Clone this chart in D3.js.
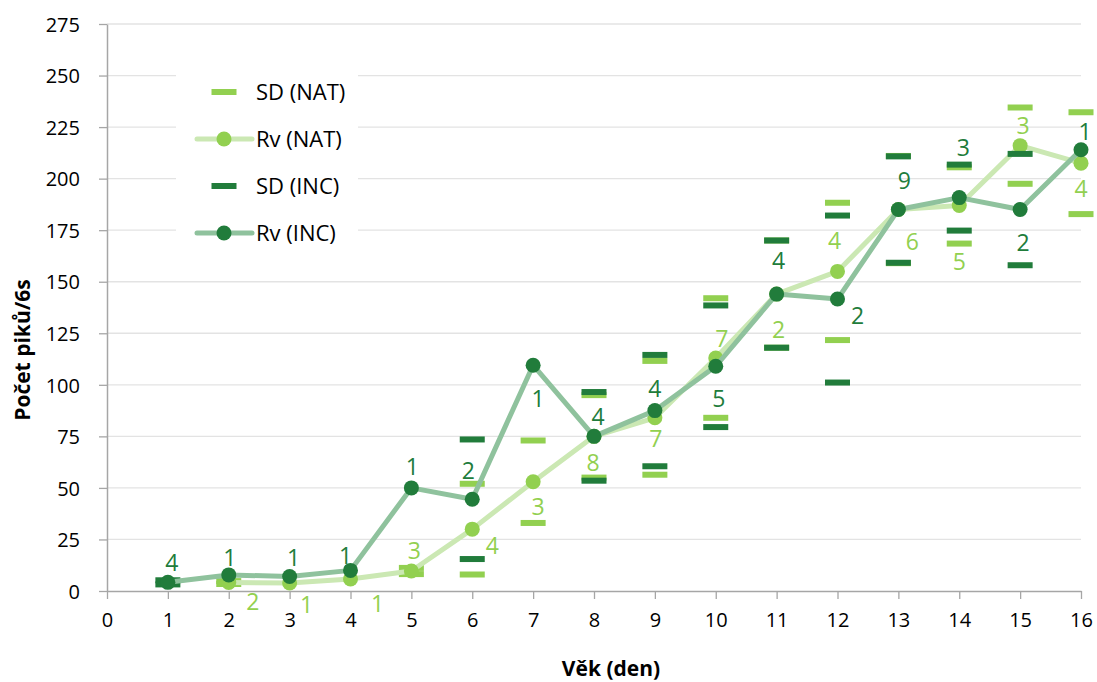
<!DOCTYPE html>
<html>
<head>
<meta charset="utf-8">
<script src="https://cdn.jsdelivr.net/npm/d3@7"></script>
<style>
  body { margin: 0; background: #fff; }
  svg { display: block; }
  text { font-family: "Open Sans", "Noto Sans", sans-serif; }
</style>
</head>
<body>
<svg id="chart" width="1097" height="682"></svg>
<script>
// Age in days
const days = [1, 2, 3, 4, 5, 6, 7, 8, 9, 10, 11, 12, 13, 14, 15, 16];

// NAT group: mean peak count, standard deviation, number of animals
const rvNat = [null, 4.1, 3.9, 5.8, 9.7, 30, 53, 75, 84, 113, 144, 155, 185, 187, 216, 207.5];
const sdNat = [null, 0.7, null, null, 1.5, 22, 20, 20, 27.6, 29, 26, 33.3, 26, 18.5, 18.5, 24.7];
const nNat  = [null, 2, 1, 1, 3, 4, 3, 8, 7, 7, 2, 4, 6, 5, 3, 4];

// INC group: mean peak count, standard deviation, number of animals
const rvInc = [4.2, 7.8, 7, 10, 50, 44.5, 109.5, 75, 87.5, 109, 144, 141.6, 185, 190.8, 185, 214];
const sdInc = [1, null, null, null, null, 29, null, 21.5, 27, 29.5, 26, 40.5, 25.8, 16, 27, null];
const nInc  = [4, 1, 1, 1, 1, 2, 1, 4, 4, 5, 4, 2, 9, 3, 2, 1];

// Axis ticks
const xTicks = d3.range(0, 17);
const yTicks = d3.range(0, 276, 25);

// Placement of the count labels relative to their point (px)
const labelShiftNat = [null, [24, 19], [17, 22], [27, 25], [3, -20], [20, 17], [5, 25], [-1, 26], [1, 21],
                       [6, -19], [2, 36], [-3, -31], [14, 32], [0, 56], [3, -20], [0, 26]];
const labelShiftInc = [[4, -20], [1, -17], [4, -19], [-5, -15], [1, -21], [-4, -29], [5, 33], [4, -20], [0, -22],
                       [3, 32], [2, -33], [20, 17], [6, -29], [4, -50], [3, 33], [4, -18]];

const C = {
  natMark: "#92d050", natLine: "#cbe8b3",
  incMark: "#217c3b", incLine: "#8fc29d",
  axis: "#a6a6a6", grid: "#e3e3e3", text: "#000"
};

const svg = d3.select("#chart");
const plot = { left: 107, right: 1081, top: 24, bottom: 591 };

const x = d3.scaleLinear().domain([0, 16]).range([plot.left, plot.right]);
const y = d3.scaleLinear().domain([0, 275]).range([plot.bottom, plot.top]);

// Horizontal gridlines
svg.append("g").selectAll("line").data(yTicks.filter(v => v > 0)).join("line")
  .attr("x1", plot.left).attr("x2", plot.right)
  .attr("y1", d => y(d)).attr("y2", d => y(d))
  .attr("stroke", C.grid).attr("stroke-width", 1.3);

// Y axis
const yAxis = svg.append("g").attr("transform", `translate(${plot.left},0)`)
  .call(d3.axisLeft(y).tickValues(yTicks).tickSize(8).tickPadding(19).tickSizeOuter(0));
yAxis.select(".domain").attr("stroke", C.axis).attr("stroke-width", 1.5);
yAxis.selectAll(".tick line").attr("stroke", C.axis).attr("stroke-width", 1.3);
yAxis.selectAll(".tick text").attr("font-size", 20).attr("fill", C.text)
  .attr("font-family", '"Open Sans", sans-serif').attr("dy", "0.36em");

// X axis
const xAxis = svg.append("g").attr("transform", `translate(0,${plot.bottom})`)
  .call(d3.axisBottom(x).tickValues(xTicks).tickSize(8).tickPadding(10).tickSizeOuter(0));
xAxis.select(".domain").attr("stroke", C.axis).attr("stroke-width", 1.5);
xAxis.selectAll(".tick line").attr("stroke", C.axis).attr("stroke-width", 1.3);
xAxis.selectAll(".tick text").attr("font-size", 20).attr("fill", C.text)
  .attr("font-family", '"Open Sans", sans-serif').attr("dy", "0.88em");

// Axis titles
svg.append("text").attr("x", 611).attr("y", 676).attr("text-anchor", "middle")
  .attr("font-size", 21).attr("font-weight", "bold").text("Věk (den)");
svg.append("text").attr("transform", "translate(30,350) rotate(-90)").attr("text-anchor", "middle")
  .attr("font-size", 21).attr("font-weight", "bold").text("Počet piků/6s");

// Build point records for each group
const nat = days.map((d, i) => ({ day: d, rv: rvNat[i], sd: sdNat[i], n: nNat[i], shift: labelShiftNat[i] }))
  .filter(p => p.rv != null);
const inc = days.map((d, i) => ({ day: d, rv: rvInc[i], sd: sdInc[i], n: nInc[i], shift: labelShiftInc[i] }));

const dashW = 25, dashH = 6, radius = 7.5;
const line = d3.line().x(p => x(p.day)).y(p => y(p.rv));

function sdDashes(data, color) {
  const pts = [];
  data.filter(p => p.sd != null).forEach(p => {
    pts.push({ day: p.day, v: p.rv + p.sd });
    pts.push({ day: p.day, v: p.rv - p.sd });
  });
  svg.append("g").selectAll("rect").data(pts).join("rect")
    .attr("x", p => x(p.day) - dashW / 2).attr("y", p => y(p.v) - dashH / 2)
    .attr("width", dashW).attr("height", dashH).attr("fill", color);
}

function meanSeries(data, lineColor, markColor) {
  svg.append("path").datum(data).attr("d", line)
    .attr("fill", "none").attr("stroke", lineColor).attr("stroke-width", 5)
    .attr("stroke-linejoin", "round");
  svg.append("g").selectAll("circle").data(data).join("circle")
    .attr("cx", p => x(p.day)).attr("cy", p => y(p.rv)).attr("r", radius).attr("fill", markColor);
}

function countLabels(data, color) {
  svg.append("g").selectAll("text").data(data).join("text")
    .attr("x", p => x(p.day) + p.shift[0])
    .attr("y", p => y(p.rv) + p.shift[1])
    .attr("dy", "0.36em").attr("text-anchor", "middle")
    .attr("font-size", 23).attr("fill", color).text(p => p.n);
}

sdDashes(nat, C.natMark);
meanSeries(nat, C.natLine, C.natMark);
sdDashes(inc, C.incMark);
meanSeries(inc, C.incLine, C.incMark);
countLabels(nat, C.natMark);
countLabels(inc, C.incMark);

// Legend
const legend = svg.append("g");
legend.append("rect").attr("x", 176).attr("y", 64).attr("width", 182).attr("height", 192).attr("fill", "#fff");
const legendItems = [
  { label: "SD (NAT)", kind: "dash", color: C.natMark },
  { label: "Rv (NAT)", kind: "line", color: C.natMark, lineColor: C.natLine },
  { label: "SD (INC)", kind: "dash", color: C.incMark },
  { label: "Rv (INC)", kind: "line", color: C.incMark, lineColor: C.incLine }
];
const legendY = d3.scalePoint().domain(legendItems.map(d => d.label)).range([92, 233]);
legendItems.forEach(item => {
  const g = legend.append("g").attr("transform", `translate(0,${legendY(item.label)})`);
  if (item.kind === "dash") {
    g.append("rect").attr("x", 224 - dashW / 2).attr("y", -dashH / 2)
      .attr("width", dashW).attr("height", dashH).attr("fill", item.color);
  } else {
    g.append("line").attr("x1", 197).attr("x2", 252).attr("y1", 0).attr("y2", 0)
      .attr("stroke", item.lineColor).attr("stroke-width", 5).attr("stroke-linecap", "round");
    g.append("circle").attr("cx", 224).attr("cy", 0).attr("r", radius).attr("fill", item.color);
  }
  g.append("text").attr("x", 256).attr("y", 0).attr("dy", "0.36em")
    .attr("font-size", 22).attr("fill", C.text).text(item.label);
});
</script>
</body>
</html>
